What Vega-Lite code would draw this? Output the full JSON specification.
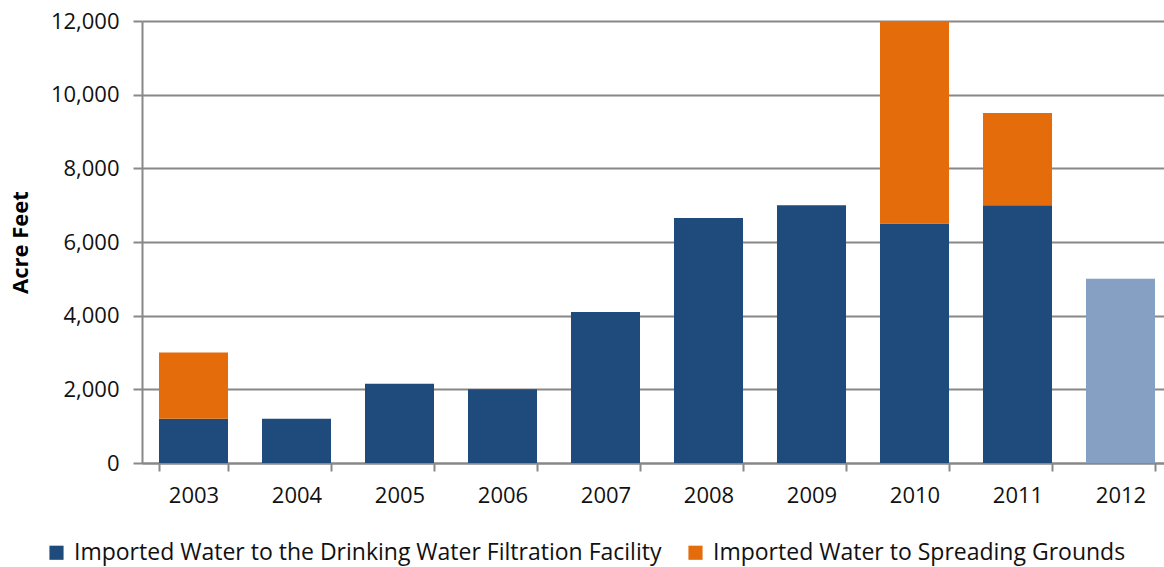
{
  "$schema": "https://vega.github.io/schema/vega-lite/v6.json",
  "autosize": "none",
  "width": 1030,
  "height": 442,
  "padding": {"left": 142, "top": 21, "right": 0, "bottom": 104},
  "background": "white",
  "config": {
    "font": "Open Sans",
    "view": {"stroke": null}
  },
  "data": {
    "values": [
      {"year": "2003", "series": "Imported Water to the Drinking Water Filtration Facility", "value": 1200},
      {"year": "2003", "series": "Imported Water to Spreading Grounds", "value": 1800},
      {"year": "2004", "series": "Imported Water to the Drinking Water Filtration Facility", "value": 1200},
      {"year": "2005", "series": "Imported Water to the Drinking Water Filtration Facility", "value": 2150},
      {"year": "2006", "series": "Imported Water to the Drinking Water Filtration Facility", "value": 2000},
      {"year": "2007", "series": "Imported Water to the Drinking Water Filtration Facility", "value": 4100},
      {"year": "2008", "series": "Imported Water to the Drinking Water Filtration Facility", "value": 6650},
      {"year": "2009", "series": "Imported Water to the Drinking Water Filtration Facility", "value": 7000},
      {"year": "2010", "series": "Imported Water to the Drinking Water Filtration Facility", "value": 6500},
      {"year": "2010", "series": "Imported Water to Spreading Grounds", "value": 5500},
      {"year": "2011", "series": "Imported Water to the Drinking Water Filtration Facility", "value": 7000},
      {"year": "2011", "series": "Imported Water to Spreading Grounds", "value": 2500},
      {"year": "2012", "series": "Projected", "value": 5000}
    ]
  },
  "mark": {"type": "bar"},
  "encoding": {
    "x": {
      "field": "year",
      "type": "ordinal",
      "scale": {"paddingInner": 0.33, "paddingOuter": 0.165},
      "axis": {
        "title": null,
        "labelAngle": 0,
        "labelFontSize": 22,
        "labelColor": "#111111",
        "labelPadding": 14,
        "tickBand": "extent",
        "tickSize": 8,
        "tickColor": "#888888",
        "domainColor": "#888888",
        "domainWidth": 2,
        "tickWidth": 2
      }
    },
    "y": {
      "field": "value",
      "type": "quantitative",
      "aggregate": "sum",
      "stack": "zero",
      "scale": {"domain": [0, 12000], "nice": false},
      "axis": {
        "title": "Acre Feet",
        "titleFontSize": 22,
        "titleFontWeight": "bold",
        "titleColor": "#000000",
        "titlePadding": 18,
        "values": [0, 2000, 4000, 6000, 8000, 10000, 12000],
        "format": ",.0f",
        "labelFontSize": 22,
        "labelColor": "#111111",
        "labelPadding": 14,
        "tickSize": 9,
        "tickColor": "#888888",
        "tickWidth": 2,
        "domainColor": "#888888",
        "domainWidth": 2,
        "gridColor": "#888888",
        "gridWidth": 2
      }
    },
    "color": {
      "field": "series",
      "type": "nominal",
      "sort": ["Imported Water to the Drinking Water Filtration Facility", "Imported Water to Spreading Grounds", "Projected"],
      "scale": {
        "domain": ["Imported Water to the Drinking Water Filtration Facility", "Imported Water to Spreading Grounds", "Projected"],
        "range": ["#1f4a7c", "#e46c0a", "#86a0c4"]
      },
      "legend": {
        "title": null,
        "orient": "none",
        "direction": "horizontal",
        "legendX": -97,
        "legendY": 520,
        "values": ["Imported Water to the Drinking Water Filtration Facility", "Imported Water to Spreading Grounds"],
        "symbolType": "square",
        "symbolSize": 200,
        "symbolStrokeWidth": 0,
        "labelFontSize": 23,
        "labelColor": "#111111",
        "labelLimit": 800,
        "columnPadding": 22,
        "labelOffset": 6
      }
    },
    "order": {"field": "series", "sort": "descending"}
  }
}
